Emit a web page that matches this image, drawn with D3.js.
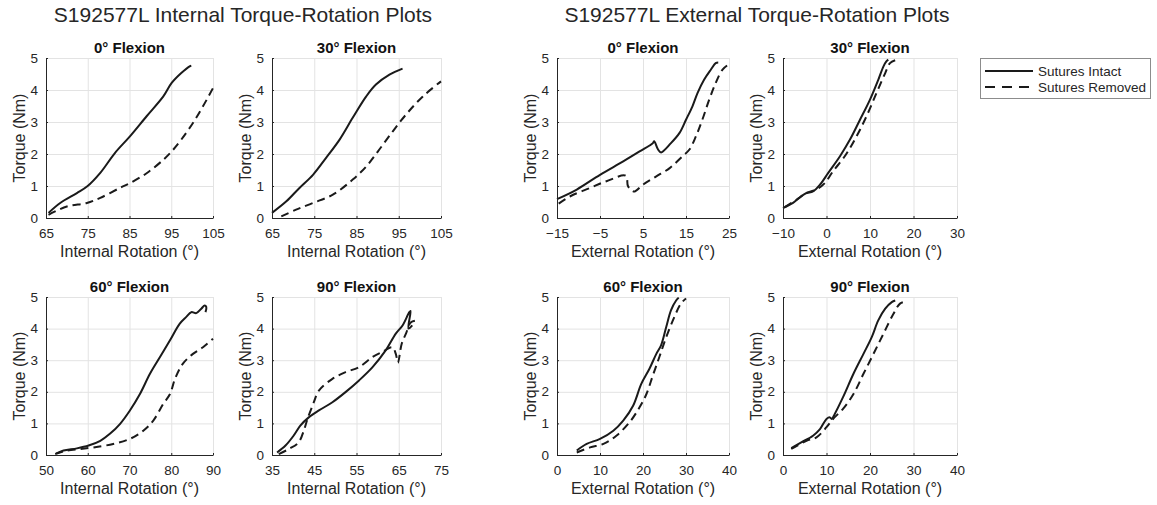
<!DOCTYPE html>
<html><head><meta charset="utf-8">
<script src="https://cdn.jsdelivr.net/npm/d3@7"></script>
<style>
body{margin:0;background:#fff;}
svg{display:block;font-family:"Liberation Sans",Arial,Helvetica,sans-serif;}
</style></head>
<body>
<svg id="c" width="1157" height="505"></svg>
<script>
// ---- Data ----
const mainTitles = ["S192577L Internal Torque-Rotation Plots", "S192577L External Torque-Rotation Plots"];
const panelTitles = ["0° Flexion", "30° Flexion", "60° Flexion", "90° Flexion"];
const seriesNames = ["Sutures Intact", "Sutures Removed"];
const yTicks = [0, 1, 2, 3, 4, 5];

const int0Ticks = [65, 75, 85, 95, 105];
const int30Ticks = [65, 75, 85, 95, 105];
const int60Ticks = [50, 60, 70, 80, 90];
const int90Ticks = [35, 45, 55, 65, 75];
const ext0Ticks = [-15, -5, 5, 15, 25];
const ext30Ticks = [-10, 0, 10, 20, 30];
const ext60Ticks = [0, 10, 20, 30, 40];
const ext90Ticks = [0, 10, 20, 30, 40];

const int0Intact = [[65.6,0.16],[68.4,0.47],[72.4,0.78],[74.9,0.99],[78,1.41],[81.5,2.03],[85.1,2.55],[89.1,3.18],[93.1,3.8],[95.1,4.22],[97.4,4.53],[99.4,4.74],[99.8,4.76]];
const int0Removed = [[65.6,0.1],[70,0.36],[74.8,0.47],[78,0.63],[82.7,0.94],[85.1,1.09],[89.1,1.4],[93.1,1.82],[95.1,2.08],[97.4,2.45],[100.2,2.97],[102.6,3.49],[105,4.06]];

const int30Intact = [[65,0.16],[68.4,0.52],[71.5,0.94],[74.7,1.35],[77.8,1.88],[81,2.45],[84.1,3.13],[87.3,3.8],[89.6,4.17],[92.8,4.48],[95.9,4.67]];
const int30Removed = [[67.2,0.05],[70.7,0.26],[74.7,0.47],[79.4,0.73],[84.1,1.2],[87.3,1.61],[90.4,2.14],[93.6,2.71],[96.7,3.23],[100.7,3.8],[105,4.27]];

const int60Intact = [[52.5,0.05],[54.2,0.14],[57.4,0.21],[60.2,0.3],[63,0.45],[65.3,0.67],[67.7,0.98],[70.1,1.41],[72.5,1.93],[74.9,2.57],[77.3,3.1],[79.7,3.63],[82,4.15],[83.6,4.37],[84.8,4.52],[86,4.49],[87.2,4.63],[88,4.73],[88.4,4.68],[88.2,4.52]];
const int60Removed = [[52.2,0.03],[55,0.14],[58.2,0.19],[61.4,0.24],[66.1,0.35],[70.1,0.51],[73.3,0.77],[75.7,1.09],[78.1,1.62],[79.7,1.93],[80.9,2.41],[82.8,2.89],[85.2,3.2],[87.6,3.41],[90,3.68]];

const int90Intact = [[36.2,0.08],[38.2,0.3],[40.1,0.61],[41.7,0.93],[43.7,1.19],[46.1,1.41],[49.3,1.67],[52.4,1.99],[55.6,2.36],[58.8,2.78],[61.9,3.31],[64.3,3.84],[65.9,4.1],[67.5,4.52],[67.8,4.56],[67.3,4.0],[68.2,4.1]];
const int90Removed = [[36.6,0.03],[39,0.19],[41.3,0.4],[42.6,0.8],[43.3,1.1],[44.9,1.67],[46.1,2.04],[49.3,2.41],[52.4,2.62],[55.6,2.78],[58.8,3.1],[61.1,3.26],[63.5,3.41],[64.3,3.2],[64.8,2.92],[65.7,3.52],[66.7,3.84],[67.9,4.2],[69.5,4.26]];

const ext0Intact = [[-15,0.59],[-10.4,0.89],[-5,1.35],[0.4,1.77],[4.2,2.08],[7.3,2.34],[7.6,2.4],[8.5,2.14],[9.2,2.05],[11.5,2.34],[13.5,2.66],[15,3.07],[16.5,3.49],[17.7,3.91],[19.2,4.32],[20.8,4.64],[21.9,4.84],[22.5,4.86]];
const ext0Removed = [[-14.6,0.45],[-11.9,0.68],[-7.3,0.94],[-3.5,1.15],[1.0,1.32],[1.5,1.0],[2.5,0.85],[3.1,0.83],[5,1.04],[8.1,1.3],[11.2,1.56],[14.2,1.93],[15.8,2.14],[17.3,2.55],[18.8,3.07],[20.4,3.7],[21.9,4.22],[23.5,4.64],[24.8,4.79]];

const ext30Intact = [[-10,0.31],[-7.7,0.47],[-5.8,0.68],[-4.6,0.78],[-3.1,0.83],[-1.5,1.04],[0.4,1.41],[3.1,1.93],[5.4,2.45],[7.7,3.07],[10,3.7],[11.9,4.32],[13.1,4.74],[13.8,4.9],[14.2,4.95]];
const ext30Removed = [[-9.6,0.34],[-6.9,0.57],[-4.6,0.78],[-2.3,0.89],[-0.4,1.09],[1.5,1.46],[4.2,1.93],[6.9,2.55],[9.2,3.18],[11.5,3.91],[13.5,4.53],[14.6,4.84],[15.8,4.93]];

const ext60Intact = [[4.6,0.14],[6.9,0.35],[10,0.51],[13.1,0.77],[15.4,1.09],[17.7,1.56],[19.6,2.25],[21.5,2.73],[23.1,3.2],[24.2,3.47],[25.4,4.05],[26.5,4.58],[27.7,4.89],[28.3,4.98]];
const ext60Removed = [[4.6,0.08],[7.7,0.24],[10.8,0.35],[13.8,0.61],[16.9,1.04],[19.2,1.51],[20.8,1.93],[22.3,2.52],[23.8,3.1],[25.4,3.73],[27.3,4.37],[28.8,4.79],[30,4.95]];

const ext90Intact = [[1.9,0.22],[4.2,0.4],[6.9,0.61],[8.5,0.82],[10,1.14],[10.8,1.19],[11.2,1.14],[11.9,1.3],[13.8,1.83],[16.2,2.57],[18.5,3.2],[20.4,3.73],[21.9,4.26],[23.5,4.63],[25,4.84],[25.8,4.89]];
const ext90Removed = [[1.9,0.19],[5.4,0.45],[7.7,0.56],[10,0.88],[11.5,1.14],[13.8,1.46],[16.2,1.93],[18.5,2.57],[20.8,3.2],[23.1,3.84],[25.4,4.47],[26.9,4.79],[28.5,4.87]];

const panels = [
  {col:0,row:0,title:panelTitles[0],xlabel:"Internal Rotation (°)",ticks:int0Ticks,a:int0Intact,b:int0Removed},
  {col:1,row:0,title:panelTitles[1],xlabel:"Internal Rotation (°)",ticks:int30Ticks,a:int30Intact,b:int30Removed},
  {col:0,row:1,title:panelTitles[2],xlabel:"Internal Rotation (°)",ticks:int60Ticks,a:int60Intact,b:int60Removed},
  {col:1,row:1,title:panelTitles[3],xlabel:"Internal Rotation (°)",ticks:int90Ticks,a:int90Intact,b:int90Removed},
  {col:2,row:0,title:panelTitles[0],xlabel:"External Rotation (°)",ticks:ext0Ticks,a:ext0Intact,b:ext0Removed},
  {col:3,row:0,title:panelTitles[1],xlabel:"External Rotation (°)",ticks:ext30Ticks,a:ext30Intact,b:ext30Removed},
  {col:2,row:1,title:panelTitles[2],xlabel:"External Rotation (°)",ticks:ext60Ticks,a:ext60Intact,b:ext60Removed},
  {col:3,row:1,title:panelTitles[3],xlabel:"External Rotation (°)",ticks:ext90Ticks,a:ext90Intact,b:ext90Removed}
];

// ---- Layout ----
const cols = [{x:46,w:167},{x:272,w:169},{x:557,w:172},{x:783,w:174}];
const rows = [{y:58,h:160},{y:297,h:158}];
const textCol = "#262626";
const dash = "8,5";
const tickFont = 13.5;

const svg = d3.select("#c");

svg.append("text").attr("x",243).attr("y",22).attr("text-anchor","middle")
  .attr("font-size",21).attr("fill",textCol).text(mainTitles[0]);
svg.append("text").attr("x",757).attr("y",22).attr("text-anchor","middle")
  .attr("font-size",21).attr("fill",textCol).text(mainTitles[1]);

panels.forEach(p => {
  const c = cols[p.col], r = rows[p.row];
  const x = d3.scaleLinear().domain([p.ticks[0], p.ticks[p.ticks.length-1]]).range([c.x, c.x+c.w]);
  const y = d3.scaleLinear().domain([0,5]).range([r.y+r.h, r.y]);
  const g = svg.append("g");

  // grid
  g.append("g").attr("transform",`translate(0,${r.y+r.h})`)
    .call(d3.axisBottom(x).tickValues(p.ticks).tickSize(-r.h).tickFormat(""))
    .call(s => { s.select(".domain").remove(); s.selectAll("line").attr("stroke","#e3e3e3"); });
  g.append("g").attr("transform",`translate(${c.x},0)`)
    .call(d3.axisLeft(y).tickValues(yTicks).tickSize(-c.w).tickFormat(""))
    .call(s => { s.select(".domain").remove(); s.selectAll("line").attr("stroke","#e3e3e3"); });

  // lines
  const line = d3.line().curve(d3.curveCatmullRom.alpha(0.5)).x(d=>x(d[0])).y(d=>y(d[1]));
  g.append("path").datum(p.a).attr("d",line).attr("fill","none").attr("stroke","#1a1a1a")
    .attr("stroke-width",2).attr("stroke-linejoin","round");
  g.append("path").datum(p.b).attr("d",line).attr("fill","none").attr("stroke","#1a1a1a")
    .attr("stroke-width",2).attr("stroke-dasharray",dash);

  // axes
  const xa = g.append("g").attr("transform",`translate(0,${r.y+r.h})`)
    .call(d3.axisBottom(x).tickValues(p.ticks).tickFormat(d3.format("d")).tickSizeInner(-2).tickSizeOuter(0).tickPadding(10));
  const ya = g.append("g").attr("transform",`translate(${c.x},0)`)
    .call(d3.axisLeft(y).tickValues(yTicks).tickFormat(d3.format("d")).tickSizeInner(-2).tickSizeOuter(0).tickPadding(8));
  [xa,ya].forEach(a => {
    a.attr("font-family",null).attr("font-size",null);
    a.select(".domain").attr("stroke",textCol);
    a.selectAll(".tick line").attr("stroke",textCol);
    a.selectAll(".tick text").attr("fill",textCol).attr("font-size",tickFont);
  });
  xa.selectAll(".tick text").attr("dy","0.71em");
  ya.selectAll(".tick text").attr("dy","0.3em");

  // titles / labels
  g.append("text").attr("x",c.x+c.w/2).attr("y",r.y-5).attr("text-anchor","middle")
    .attr("font-weight","bold").attr("font-size",15).attr("fill","#111").text(p.title);
  g.append("text").attr("x",c.x+c.w/2).attr("y",r.y+r.h+39).attr("text-anchor","middle")
    .attr("font-size",16).attr("fill",textCol).text(p.xlabel);
  g.append("text").attr("transform",`translate(${c.x-21},${r.y+r.h/2}) rotate(-90)`)
    .attr("text-anchor","middle").attr("font-size",16).attr("fill",textCol).text("Torque (Nm)");
});

// legend
const lg = svg.append("g");
lg.append("rect").attr("x",980.5).attr("y",58.5).attr("width",170).attr("height",40)
  .attr("fill","#fff").attr("stroke","#8c8c8c");
seriesNames.forEach((n,i) => {
  const yy = 71 + i*16;
  lg.append("line").attr("x1",985).attr("x2",1033).attr("y1",yy).attr("y2",yy)
    .attr("stroke","#1a1a1a").attr("stroke-width",2).attr("stroke-dasharray", i ? "10,7" : null);
  lg.append("text").attr("x",1038).attr("y",yy).attr("dy","0.35em").attr("font-size",13.5)
    .attr("fill",textCol).text(n);
});
</script>
</body></html>
